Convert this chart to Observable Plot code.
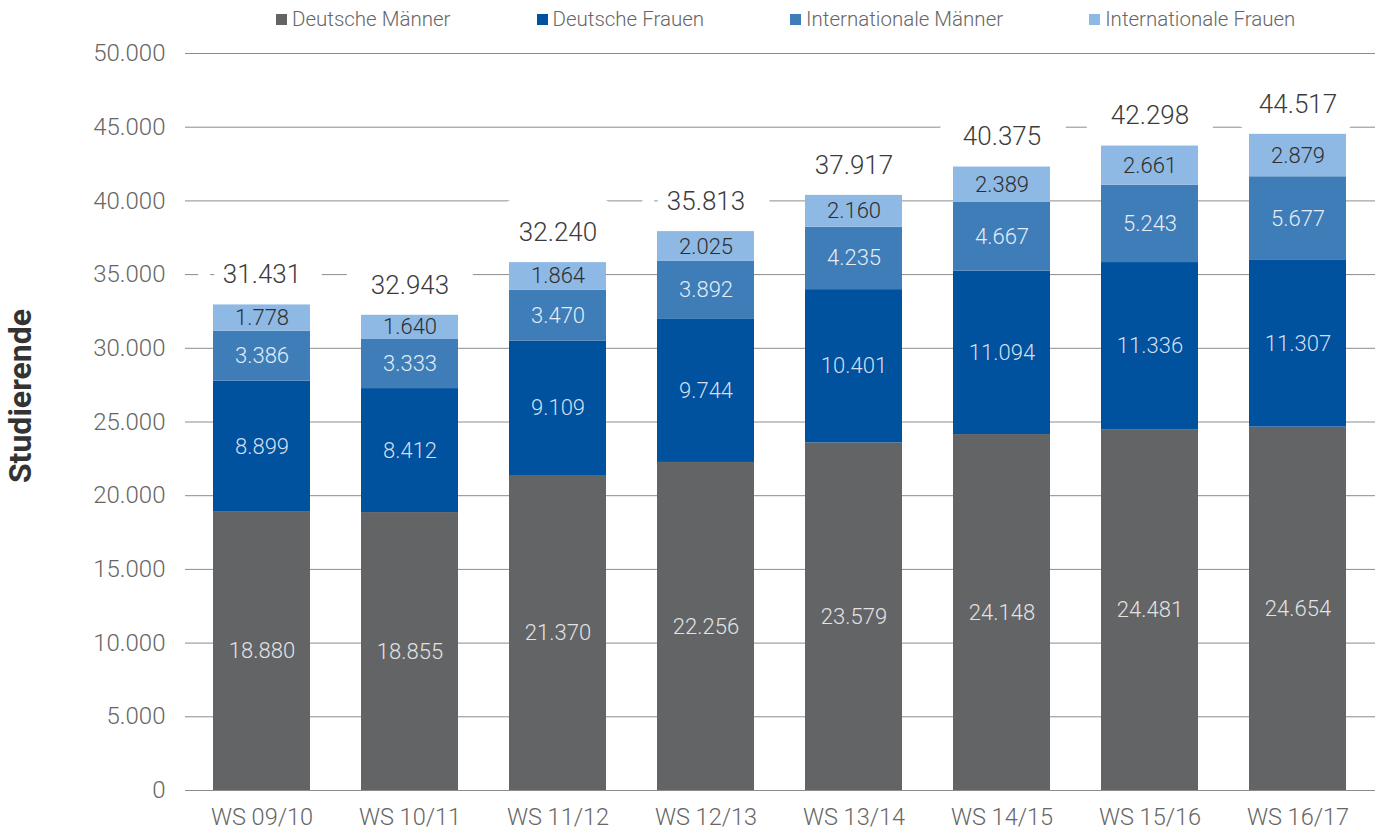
<!DOCTYPE html>
<html><head><meta charset="utf-8">
<script src="https://cdn.jsdelivr.net/npm/d3@7"></script>
<script src="https://cdn.jsdelivr.net/npm/@observablehq/plot@0.6"></script>
<style>
body{margin:0;background:#fff;}
#wrap{position:relative;width:1381px;height:834px;font-family:Roboto,"Liberation Sans",sans-serif;}
#legend{position:absolute;top:7px;left:276px;display:flex;gap:86px;font-size:20.5px;font-weight:300;color:#666;white-space:nowrap;}
.leg{display:flex;align-items:center;}
.leg i{display:inline-block;width:11px;height:11px;margin-right:5px;}
#chart{position:absolute;top:0;left:0;}
</style></head><body>
<div id="wrap"><div id="chart"></div><div id="legend"></div></div>
<script>
const semesters = ["WS 09/10","WS 10/11","WS 11/12","WS 12/13","WS 13/14","WS 14/15","WS 15/16","WS 16/17"];
const seriesNames = ["Deutsche Männer","Deutsche Frauen","Internationale Männer","Internationale Frauen"];
const deutscheMaenner = [18880,18855,21370,22256,23579,24148,24481,24654];
const deutscheFrauen = [8899,8412,9109,9744,10401,11094,11336,11307];
const internationaleMaenner = [3386,3333,3470,3892,4235,4667,5243,5677];
const internationaleFrauen = [1778,1640,1864,2025,2160,2389,2661,2879];
const totalLabels = ["31.431","32.943","32.240","35.813","37.917","40.375","42.298","44.517"];
const yTicks = [0,5000,10000,15000,20000,25000,30000,35000,40000,45000,50000];

const barColors = ["#636466","#00519e","#3e7db7","#8fb9e5"];
const textColors = ["#e2e2e2","#d3dff0","#e4ecf6","#2e2e2e"];

const seriesValues = [deutscheMaenner,deutscheFrauen,internationaleMaenner,internationaleFrauen];
const rows = [];
seriesNames.forEach((s,si)=>semesters.forEach((sem,i)=>rows.push({semester:sem,series:s,si,value:seriesValues[si][i]})));
const totals = semesters.map((sem,i)=>({semester:sem,total:seriesValues.reduce((a,v)=>a+v[i],0),label:totalLabels[i]}));

const fmt = d3.formatLocale({decimal:",",thousands:".",grouping:[3],currency:["","€"]}).format(",d");

const chart = Plot.plot({
  width:1381, height:834,
  marginTop:53, marginBottom:44, marginLeft:185, marginRight:6,
  style:{fontFamily:'Roboto,"Liberation Sans",sans-serif',fontWeight:300,background:"white"},
  x:{domain:semesters, paddingInner:0.342, paddingOuter:0.19},
  y:{domain:[0,50000]},
  color:{type:"identity"},
  marks:[
    Plot.gridY(yTicks,{stroke:"#8c8c8c",strokeOpacity:1,strokeWidth:1}),
    Plot.text(totals,{x:"semester",y:"total",text:"label",dy:-30,fontSize:26,fill:"#3b3b3b",stroke:"white",strokeWidth:52}),
    Plot.barY(rows,Plot.stackY({x:"semester",y:"value",z:"series",fill:d=>barColors[d.si]})),
    Plot.text(rows,Plot.stackY({x:"semester",y:"value",z:"series",text:d=>fmt(d.value),fill:d=>textColors[d.si],fontSize:22})),
    Plot.axisY({ticks:yTicks,tickFormat:fmt,tickSize:0,tickPadding:20,fontSize:24,fill:"#666",label:null}),
    Plot.axisY({ticks:[],label:"Studierende",labelAnchor:"center",labelArrow:"none",labelOffset:177,fontSize:32,fontWeight:"bold",fill:"#333"}),
    Plot.axisX({tickSize:0,tickPadding:18,fontSize:23.5,fill:"#666",label:null})
  ]
});
chart.querySelectorAll("text").forEach(t=>{
  if (t.textContent.trim()==="Studierende") {
    t.setAttribute("transform",("translate(0,-26) "+(t.getAttribute("transform")||"")).trim());
  }
});
document.getElementById("chart").append(chart);

const legend = document.getElementById("legend");
seriesNames.forEach((s,i)=>{
  const d=document.createElement("div");d.className="leg";
  const sw=document.createElement("i");sw.style.background=barColors[i];
  d.append(sw,document.createTextNode(s));legend.append(d);
});
</script>
</body></html>
